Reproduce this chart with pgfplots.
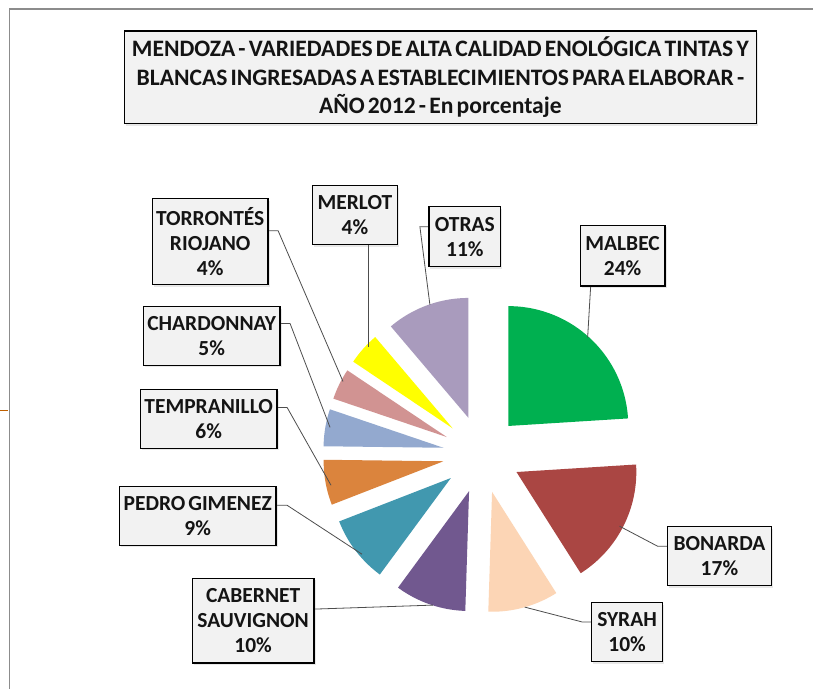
\documentclass[border=0pt]{standalone}
\usepackage{fontspec}
\setmainfont{Carlito}[WordSpace=0.6]
\usepackage{pgfplots}
\pgfplotsset{compat=1.18}
\usepackage{pgfplotstable}
\usetikzlibrary{shadows}

\definecolor{c0}{HTML}{00B050}
\definecolor{c1}{HTML}{AA4643}
\definecolor{c2}{HTML}{FCD5B5}
\definecolor{c3}{HTML}{71588F}
\definecolor{c4}{HTML}{4198AF}
\definecolor{c5}{HTML}{DB843D}
\definecolor{c6}{HTML}{93A9CF}
\definecolor{c7}{HTML}{D19392}
\definecolor{c8}{HTML}{FFFF00}
\definecolor{c9}{HTML}{A99BBD}
\definecolor{boxfill}{HTML}{F2F2F2}
\definecolor{leader}{HTML}{4D4D4D}
\definecolor{frame}{HTML}{8C8C8C}

% slice values (percent), clockwise from 12 o'clock
\pgfplotstableread{
name value
MALBEC 24.0
BONARDA 17.0
SYRAH 9.5
CABERNET 9.6
PEDRO 9.0
TEMPRANILLO 6.1
CHARDONNAY 5.0
TORRONTES 4.2
MERLOT 4.4
OTRAS 11.2
}\piedata

\tikzset{
  lbl/.style={draw=black, line width=1.3pt, fill=boxfill, align=center,
    inner sep=0pt, text=black!92,
    font=\fontsize{21.5}{25}\selectfont\bfseries,
    drop shadow={shadow xshift=1.5pt, shadow yshift=-2pt, opacity=0.18}},
  ldr/.style={draw=leader, line width=0.8pt},
}

\begin{document}
\begin{tikzpicture}
\fill[white] (0,0) rectangle (814pt,690pt);
\begin{axis}[
  at={(0,0)}, anchor=south west,
  scale only axis, width=814pt, height=690pt,
  xmin=0, xmax=814, ymin=0, ymax=690, y dir=reverse,
  hide axis, clip=false,
]
% frame of the chart area
\draw[frame, line width=1.4pt] (axis cs:9,690) -- (axis cs:9,9) -- (axis cs:814,9);
\draw[orange!75!black, line width=1pt] (axis cs:0,411.5) -- (axis cs:8,411.5);

% pie slices (exploded)
\gdef\cum{0}
\pgfplotsforeachungrouped \i in {0,...,9}{%
  \pgfplotstablegetelem{\i}{value}\of\piedata
  \let\val\pgfplotsretval
  \pgfmathsetmacro{\sa}{90-3.6*\cum}%
  \pgfmathsetmacro{\ea}{90-3.6*(\cum+\val)}%
  \pgfmathsetmacro{\ma}{(\sa+\ea)/2}%
  \pgfmathsetmacro{\ox}{482+39*cos(\ma)}%
  \pgfmathsetmacro{\oy}{455-39*sin(\ma)}%
  \edef\next{\noexpand\addplot[fill=c\i, draw=none, domain=\ea:\sa, samples=60]
     ({\ox+120*cos(x)},{\oy-120*sin(x)}) -- (axis cs:\ox,\oy) -- cycle;}%
  \next
  \pgfmathsetmacro{\newcum}{\cum+\val}%
  \xdef\cum{\newcum}%
}

% leader lines
\draw[ldr] (axis cs:591,287) -- (axis cs:588,338);
\draw[ldr] (axis cs:429,227) -- (axis cs:420,227) -- (axis cs:430,305);
\draw[ldr] (axis cs:368,245) -- (axis cs:368,348);
\draw[ldr] (axis cs:268,231) -- (axis cs:278,231) -- (axis cs:343,382);
\draw[ldr] (axis cs:280,324) -- (axis cs:290,324) -- (axis cs:330,428);
\draw[ldr] (axis cs:277,408) -- (axis cs:287,408) -- (axis cs:331,486);
\draw[ldr] (axis cs:276,506) -- (axis cs:287,506) -- (axis cs:362,555);
\draw[ldr] (axis cs:314,610) -- (axis cs:433,606);
\draw[ldr] (axis cs:592,623) -- (axis cs:583,623) -- (axis cs:525,608);
\draw[ldr] (axis cs:668,547) -- (axis cs:658,547) -- (axis cs:620,527);

% title
\node[lbl, minimum width=633pt, minimum height=93pt,
      font=\fontsize{23.6}{28.5}\selectfont\bfseries]
  at (axis cs:440.5,77.5)
  {MENDOZA - VARIEDADES DE ALTA CALIDAD ENOLÓGICA TINTAS Y\\
   BLANCAS INGRESADAS A ESTABLECIMIENTOS PARA ELABORAR -\\
   AÑO 2012 - En porcentaje};

% labels
\node[lbl, minimum width=85pt, minimum height=61pt] at (axis cs:623,256) {MALBEC\\24\%};
\node[lbl, minimum width=104pt, minimum height=59pt] at (axis cs:720,557) {BONARDA\\17\%};
\node[lbl, minimum width=71pt, minimum height=59pt] at (axis cs:627.5,633) {SYRAH\\10\%};
\node[lbl, minimum width=122pt, minimum height=85pt] at (axis cs:253,621.5) {CABERNET\\SAUVIGNON\\10\%};
\node[lbl, minimum width=157pt, minimum height=59pt] at (axis cs:197.5,516.5) {PEDRO GIMENEZ\\9\%};
\node[lbl, minimum width=137pt, minimum height=59pt] at (axis cs:208.5,419.5) {TEMPRANILLO\\6\%};
\node[lbl, minimum width=137pt, minimum height=59pt] at (axis cs:211.5,336.5) {CHARDONNAY\\5\%};
\node[lbl, minimum width=116pt, minimum height=86pt] at (axis cs:210,242) {TORRONTÉS\\RIOJANO\\4\%};
\node[lbl, minimum width=85pt, minimum height=59pt] at (axis cs:355,215.5) {MERLOT\\4\%};
\node[lbl, minimum width=72pt, minimum height=60pt] at (axis cs:465,237) {OTRAS\\11\%};
\end{axis}
\end{tikzpicture}
\end{document}
